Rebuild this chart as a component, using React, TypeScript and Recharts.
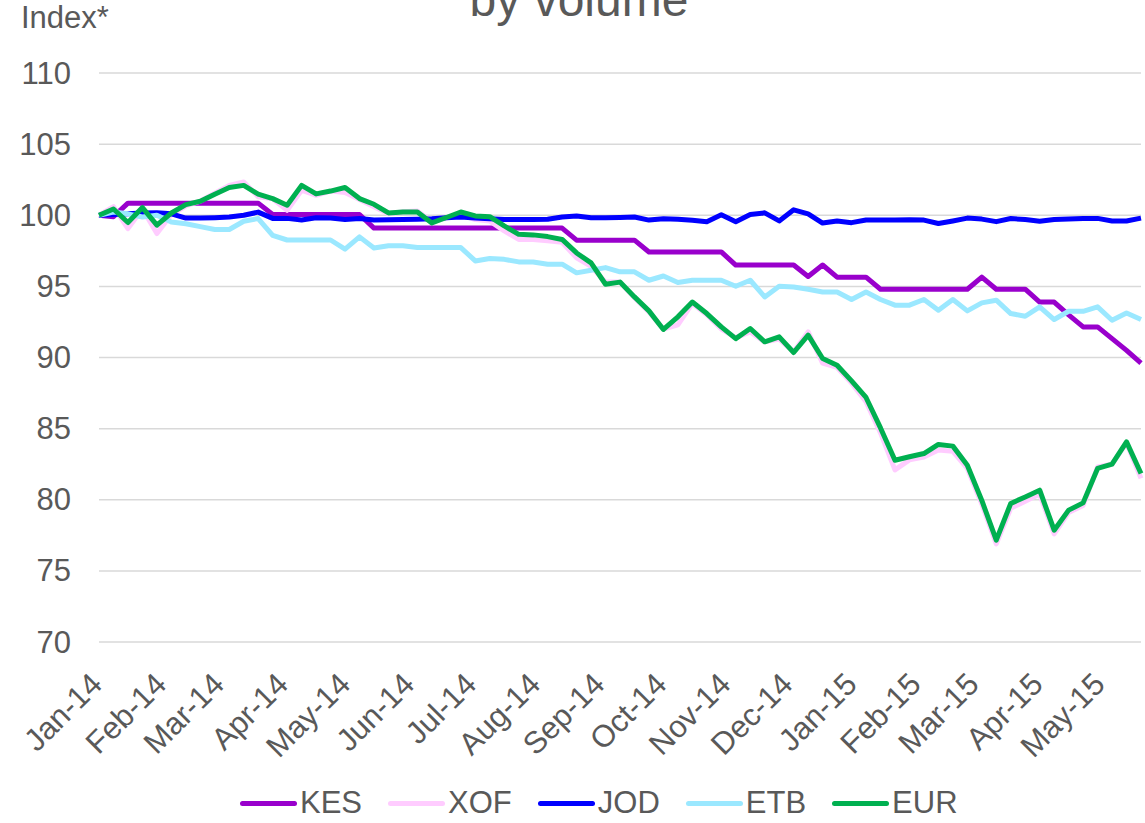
import { LineChart, Line, XAxis, YAxis, CartesianGrid, Legend } from 'recharts';

// weekly index values, first week of Jan 2014 = 100
const kes = [
  100, 99.9, 100.85, 100.85, 100.85, 100.85, 100.85, 100.85, 100.85, 100.85,
  100.85, 100.85, 100.05, 100.05, 100.05, 100.05, 100.05, 100.05, 100.05, 99.1,
  99.1, 99.1, 99.1, 99.1, 99.1, 99.1, 99.1, 99.1, 99.1, 99.1,
  99.1, 99.1, 99.1, 98.25, 98.25, 98.25, 98.25, 98.25, 97.42, 97.42,
  97.42, 97.42, 97.42, 97.42, 96.5, 96.5, 96.5, 96.5, 96.5, 95.7,
  96.5, 95.65, 95.65, 95.65, 94.8, 94.8, 94.8, 94.8, 94.8, 94.8,
  94.8, 95.65, 94.8, 94.8, 94.8, 93.9, 93.9, 93.0, 92.15, 92.15,
  91.33, 90.5, 89.6,
];

const xof = [
  100, 100.6, 99.06, 100.45, 98.71, 100.05, 100.65, 101.0, 101.55, 102.1,
  102.34, 101.3, 101.15, 100.35, 101.76, 101.4, 101.7, 101.6, 101.1, 100.6,
  100.1, 100.25, 100.3, 99.55, 99.8, 100.05, 99.7, 99.6, 98.9, 98.3,
  98.3, 98.2, 98.1, 97.0, 96.4, 95.3, 95.3, 94.2, 93.2, 92.0,
  92.3, 93.8, 93.0, 92.0, 91.4, 91.8, 91.1, 91.3, 90.4, 91.8,
  89.6, 89.3, 88.2, 86.9, 84.7, 82.1, 82.8, 83.0, 83.5, 83.4,
  82.2, 79.7, 76.9, 79.4, 79.9, 80.4, 77.6, 79.1, 79.6, 82.3,
  82.5, 84.0, 81.5,
];

const jod = [
  100.0, 100.05, 100.1, 100.15, 100.18, 100.1, 99.8, 99.8, 99.83, 99.88,
  100.0, 100.22, 99.78, 99.78, 99.66, 99.82, 99.8, 99.7, 99.77, 99.66,
  99.68, 99.7, 99.72, 99.75, 99.82, 99.87, 99.8, 99.75, 99.7, 99.7,
  99.7, 99.72, 99.88, 99.95, 99.82, 99.83, 99.85, 99.88, 99.66, 99.76,
  99.72, 99.65, 99.55, 100.03, 99.55, 100.05, 100.17, 99.6, 100.38, 100.1,
  99.45, 99.6, 99.48, 99.67, 99.67, 99.66, 99.68, 99.66, 99.42, 99.6,
  99.8, 99.73, 99.55, 99.77, 99.7, 99.58, 99.7, 99.73, 99.77, 99.78,
  99.6, 99.6, 99.8,
];

const etb = [
  100, 100.23, 100.1, 99.88, 100.0, 99.53, 99.4, 99.2, 99.0, 99.0,
  99.58, 99.77, 98.59, 98.26, 98.26, 98.26, 98.26, 97.62, 98.48, 97.7,
  97.85, 97.85, 97.73, 97.73, 97.73, 97.73, 96.79, 96.96, 96.9, 96.72,
  96.72, 96.56, 96.56, 95.95, 96.13, 96.32, 96.02, 96.02, 95.43, 95.73,
  95.27, 95.43, 95.43, 95.43, 95.01, 95.43, 94.26, 95.01, 94.96, 94.8,
  94.61, 94.61, 94.08, 94.61, 94.08, 93.68, 93.68, 94.08, 93.32, 94.08,
  93.28, 93.84, 94.03, 93.09, 92.9, 93.56, 92.67, 93.25, 93.25, 93.56,
  92.62, 93.13, 92.67,
];

const eur = [
  100, 100.44, 99.49, 100.54, 99.3, 100.16, 100.75, 100.98, 101.48, 101.95,
  102.1, 101.48, 101.17, 100.7, 102.1, 101.5, 101.7, 101.95, 101.17, 100.77,
  100.16, 100.23, 100.23, 99.46, 99.84, 100.23, 99.95, 99.9, 99.25, 98.66,
  98.62, 98.5, 98.3, 97.35, 96.65, 95.15, 95.3, 94.26, 93.28, 91.97,
  92.86, 93.9, 93.09, 92.15, 91.33, 92.04, 91.1, 91.45, 90.35, 91.57,
  89.93, 89.46, 88.36, 87.19, 85.05, 82.78, 83.02, 83.25, 83.89, 83.77,
  82.43, 79.95, 77.16, 79.74, 80.2, 80.67, 77.86, 79.27, 79.78, 82.2,
  82.5, 84.07, 81.85,
];

const monthLabels = [
  'Jan-14', 'Feb-14', 'Mar-14', 'Apr-14', 'May-14', 'Jun-14', 'Jul-14', 'Aug-14', 'Sep-14',
  'Oct-14', 'Nov-14', 'Dec-14', 'Jan-15', 'Feb-15', 'Mar-15', 'Apr-15', 'May-15',
];
const yTicks = [70, 75, 80, 85, 90, 95, 100, 105, 110];

const series = [
  { key: 'KES', values: kes, color: '#9900CC' },
  { key: 'XOF', values: xof, color: '#FFCCFF' },
  { key: 'JOD', values: jod, color: '#0000FF' },
  { key: 'ETB', values: etb, color: '#9BE8FF' },
  { key: 'EUR', values: eur, color: '#00B050' },
];

const FONT = '"Liberation Sans", Arial, sans-serif';
const GREY = '#595959';
const START = Date.UTC(2014, 0, 1);
const DAY = 86400000;

// x = days since 1 Jan 2014, one row per week
const rows = kes.map((_, i) => {
  const row: Record<string, number> = { day: i * 7 };
  series.forEach((s) => { row[s.key] = s.values[i]; });
  return row;
});

const monthTicks = monthLabels.map((_, m) => (Date.UTC(2014, m, 1) - START) / DAY);
const tickLabel: Record<number, string> = {};
monthTicks.forEach((t, i) => { tickLabel[t] = monthLabels[i]; });

function XTick({ x, payload }: any) {
  const ax = x + 5;
  const ay = 686;
  return (
    <text x={ax} y={ay} transform={`rotate(-45 ${ax} ${ay})`} textAnchor="end"
      fontSize={31} fill={GREY} fontFamily={FONT}>
      {tickLabel[payload.value]}
    </text>
  );
}

function YTick({ y, payload }: any) {
  return (
    <text x={71} y={y} textAnchor="end" dominantBaseline="central"
      fontSize={31} fill={GREY} fontFamily={FONT}>
      {payload.value}
    </text>
  );
}

function LegendRow() {
  return (
    <div style={{ display: 'flex', alignItems: 'center', height: 40, paddingLeft: 240,
      fontFamily: FONT, fontSize: 31, color: GREY }}>
      {series.map((s) => (
        <div key={s.key} style={{ display: 'flex', alignItems: 'center', marginRight: 26 }}>
          <span style={{ display: 'inline-block', width: 57, height: 5, borderRadius: 3,
            background: s.color, marginRight: 3 }} />
          <span>{s.key}</span>
        </div>
      ))}
    </div>
  );
}

export default function App() {
  return (
    <div style={{ position: 'absolute', left: 0, top: 0, width: 1145, height: 823,
      overflow: 'hidden', background: '#fff' }}>
      <LineChart width={1145} height={823} data={rows}
        margin={{ top: 73, right: 4, bottom: 0, left: 0 }}>
        <CartesianGrid vertical={false} stroke="#D9D9D9" strokeWidth={1.5} />
        <XAxis type="number" dataKey="day" domain={[0, 504]} ticks={monthTicks}
          interval={0} axisLine={false} tickLine={false} height={141} tick={<XTick />} />
        <YAxis domain={[70, 110]} ticks={yTicks} interval={0} width={99}
          axisLine={false} tickLine={false} tick={<YTick />} />
        {series.map((s) => (
          <Line key={s.key} type="linear" dataKey={s.key} stroke={s.color}
            strokeWidth={5} strokeLinejoin="round" dot={false} activeDot={false}
            isAnimationActive={false} />
        ))}
        <Legend verticalAlign="bottom" content={() => <LegendRow />} />
      </LineChart>
      <svg width={1145} height={60}
        style={{ position: 'absolute', left: 0, top: 0, pointerEvents: 'none' }}>
        <text x={579} y={16} textAnchor="middle" fontSize={48} fill={GREY}
          fontFamily={FONT}>by volume</text>
        <text x={21} y={28} fontSize={31} fill={GREY} fontFamily={FONT}>Index*</text>
      </svg>
    </div>
  );
}
